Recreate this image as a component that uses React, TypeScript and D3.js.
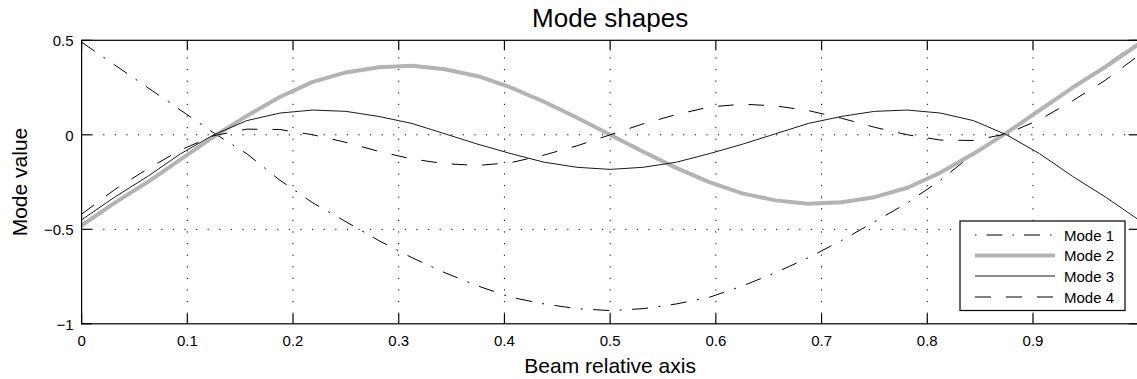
import React from "react";
import * as d3 from "d3";

const xPositions = [
  0, 0.03125, 0.0625, 0.09375, 0.125, 0.15625, 0.1875, 0.21875, 0.25, 0.28125, 0.3125,
  0.34375, 0.375, 0.40625, 0.4375, 0.46875, 0.5, 0.53125, 0.5625, 0.59375, 0.625,
  0.65625, 0.6875, 0.71875, 0.75, 0.78125, 0.8125, 0.84375, 0.875, 0.90625, 0.9375,
  0.96875, 1,
];

const mode1 = [
  0.49, 0.37, 0.25, 0.13, 0.01, -0.1, -0.24, -0.36, -0.46, -0.56, -0.65, -0.73, -0.8,
  -0.86, -0.895, -0.92, -0.93, -0.92, -0.895, -0.86, -0.8, -0.73, -0.65, -0.56, -0.46,
  -0.36, -0.24, -0.1, 0.01, 0.13, 0.25, 0.37, 0.49,
];

const mode2 = [
  -0.48, -0.36, -0.25, -0.13, -0.01, 0.1, 0.2, 0.28, 0.33, 0.357, 0.365, 0.347, 0.31,
  0.25, 0.175, 0.09, 0.0, -0.09, -0.175, -0.25, -0.31, -0.347, -0.365, -0.357, -0.33,
  -0.28, -0.2, -0.1, 0.01, 0.13, 0.25, 0.36, 0.48,
];

const mode3 = [
  -0.45, -0.33, -0.22, -0.1, 0.0, 0.075, 0.115, 0.131, 0.124, 0.097, 0.06, 0.005, -0.05,
  -0.1, -0.145, -0.172, -0.183, -0.172, -0.145, -0.1, -0.05, 0.005, 0.06, 0.097, 0.124,
  0.131, 0.115, 0.075, 0.0, -0.1, -0.22, -0.33, -0.45,
];

const mode4 = [
  -0.42, -0.29, -0.18, -0.08, -0.005, 0.03, 0.028, 0.0, -0.04, -0.088, -0.128, -0.153,
  -0.162, -0.147, -0.107, -0.058, 0.0, 0.058, 0.107, 0.147, 0.162, 0.153, 0.128, 0.088,
  0.04, 0.0, -0.028, -0.03, 0.005, 0.08, 0.18, 0.29, 0.42,
];

const seriesNames = ["Mode 1", "Mode 2", "Mode 3", "Mode 4"];
const xTicks = [0, 0.1, 0.2, 0.3, 0.4, 0.5, 0.6, 0.7, 0.8, 0.9];
const xTickLabels = ["0", "0.1", "0.2", "0.3", "0.4", "0.5", "0.6", "0.7", "0.8", "0.9"];
const yTicks = [0.5, 0, -0.5, -1];
const yTickLabels = ["0.5", "0", "\u22120.5", "\u22121"];
const xGrid = [0.1, 0.2, 0.3, 0.4, 0.5, 0.6, 0.7, 0.8, 0.9];
const yGrid = [0, -0.5];

const W = 1137;
const H = 379;
const FONT = "'Liberation Sans', Arial, Helvetica, sans-serif";

const styles = [
  { stroke: "#000", width: 1, dash: "16,10.5,2,10.5" },
  { stroke: "#b3b3b3", width: 4, dash: "" },
  { stroke: "#1a1a1a", width: 1, dash: "" },
  { stroke: "#000", width: 1, dash: "15.5,15" },
];

export default function App() {
  const left = 81.6;
  const right = 1138.7;
  const top = 40.3;
  const bottom = 323.8;
  const x = d3.scaleLinear().domain([0, 1]).range([left, right]);
  const y = d3.scaleLinear().domain([-1, 0.5]).range([bottom, top]);

  const allSeries = [mode1, mode2, mode3, mode4];
  const line = d3
    .line<number>()
    .x((_, i) => x(xPositions[i]))
    .y((d) => y(d));

  const tickLen = 10;

  const legX0 = 960;
  const legY0 = 221;
  const legW = 165;
  const legH = 89.5;
  const rowY = [235, 255.5, 276, 297];

  return (
    <div style={{ position: "absolute", left: 0, top: 0 }}>
      <svg width={W} height={H} style={{ display: "block", background: "#fff" }}>
        <rect x={0} y={0} width={W} height={H} fill="#fff" />
        {/* grid */}
        <g stroke="#000" strokeWidth={1} strokeDasharray="1.2,10.4">
          {xGrid.map((t) => (
            <line key={"gx" + t} x1={x(t)} x2={x(t)} y1={bottom - tickLen} y2={top + tickLen} />
          ))}
          {yGrid.map((t) => (
            <line key={"gy" + t} x1={left + tickLen} x2={right - tickLen} y1={y(t)} y2={y(t)} />
          ))}
        </g>
        {/* curves */}
        <g fill="none">
          {allSeries.map((s, i) => (
            <path
              key={seriesNames[i]}
              d={line(s) || ""}
              stroke={styles[i].stroke}
              strokeWidth={styles[i].width}
              strokeDasharray={styles[i].dash || undefined}
              strokeLinejoin="round"
            />
          ))}
        </g>
        {/* axes box */}
        <rect
          x={left}
          y={top}
          width={right - left}
          height={bottom - top}
          fill="none"
          stroke="#000"
          strokeWidth={1.2}
        />
        {/* ticks */}
        <g stroke="#000" strokeWidth={1.2}>
          {xTicks.map((t) => (
            <g key={"tx" + t}>
              <line x1={x(t)} x2={x(t)} y1={bottom} y2={bottom - tickLen} />
              <line x1={x(t)} x2={x(t)} y1={top} y2={top + tickLen} />
            </g>
          ))}
          {yTicks.map((t) => (
            <g key={"ty" + t}>
              <line x1={left} x2={left + tickLen} y1={y(t)} y2={y(t)} />
              <line x1={right} x2={right - tickLen} y1={y(t)} y2={y(t)} />
            </g>
          ))}
        </g>
        {/* tick labels */}
        <g fontFamily={FONT} fontSize={15} fill="#000">
          {xTicks.map((t, i) => (
            <text key={"lx" + t} x={x(t)} y={346} textAnchor="middle">
              {xTickLabels[i]}
            </text>
          ))}
          {yTicks.map((t, i) => (
            <text key={"ly" + t} x={73.5} y={y(t) + 5.7} textAnchor="end">
              {yTickLabels[i]}
            </text>
          ))}
        </g>
        {/* title and labels */}
        <text x={(left + right) / 2} y={26.5} textAnchor="middle" fontFamily={FONT} fontSize={26}>
          Mode shapes
        </text>
        <text x={(left + right) / 2} y={373.3} textAnchor="middle" fontFamily={FONT} fontSize={21}>
          Beam relative axis
        </text>
        <text
          transform={`translate(26.7, ${(top + bottom) / 2}) rotate(-90)`}
          textAnchor="middle"
          fontFamily={FONT}
          fontSize={21}
        >
          Mode value
        </text>
        {/* legend */}
        <rect x={legX0} y={legY0} width={legW} height={legH} fill="#fff" stroke="#000" strokeWidth={1.2} />
        {seriesNames.map((name, i) => (
          <g key={"leg" + name}>
            <line
              x1={975}
              x2={1055}
              y1={rowY[i]}
              y2={rowY[i]}
              stroke={styles[i].stroke}
              strokeWidth={styles[i].width}
              strokeDasharray={i === 0 ? "1.5,10,16,10" : i === 3 ? "16,15" : undefined}
            />
            <text x={1064} y={rowY[i] + 5.5} fontFamily={FONT} fontSize={15}>
              {name}
            </text>
          </g>
        ))}
      </svg>
    </div>
  );
}
